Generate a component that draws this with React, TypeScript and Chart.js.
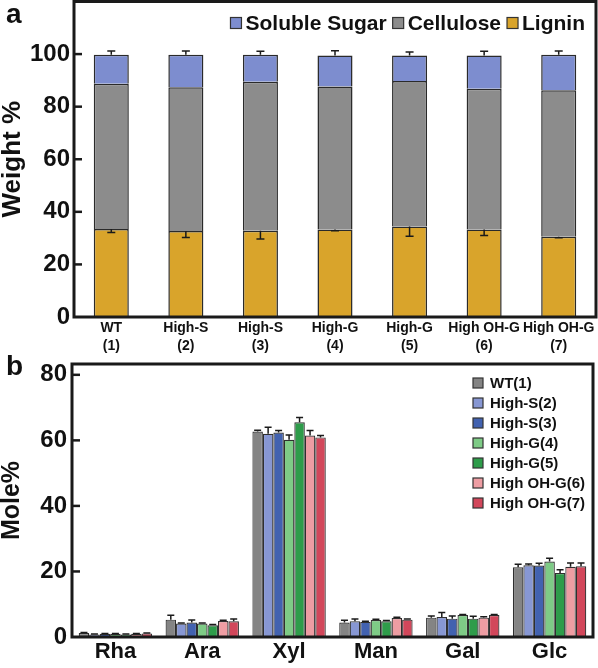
import React, { useEffect, useRef } from 'react';
import { Chart, registerables } from 'chart.js';

Chart.register(...registerables);

const FONT = "'Liberation Sans', Arial, Helvetica, sans-serif";
const INK = '#1a1a1a';

// ---------- Panel a: composition (Weight %) ----------
const lineCategories = [
  ['WT', '(1)'],
  ['High-S', '(2)'],
  ['High-S', '(3)'],
  ['High-G', '(4)'],
  ['High-G', '(5)'],
  ['High OH-G', '(6)'],
  ['High OH-G', '(7)'],
];
const ligninValues = [33.5, 32.7, 32.8, 33.3, 34.4, 33.3, 30.5];
const ligninErrors = [1.4, 2.5, 3.1, 0.5, 3.7, 2.3, 0.4];
const celluloseValues = [55.2, 54.7, 56.7, 54.4, 55.4, 53.5, 55.7];
const sugarValues = [11.0, 12.3, 10.2, 11.8, 9.7, 12.7, 13.5];
const sugarErrors = [1.5, 1.5, 1.4, 1.8, 1.3, 1.6, 1.5];
const weightAxisMax = 120;
const weightTickMax = 100;
const weightTickStep = 20;

// ---------- Panel b: monosaccharides (Mole%) ----------
const sugarCategories = ['Rha', 'Ara', 'Xyl', 'Man', 'Gal', 'Glc'];
const lineLabels = ['WT(1)', 'High-S(2)', 'High-S(3)', 'High-G(4)', 'High-G(5)', 'High OH-G(6)', 'High OH-G(7)'];
const wt1Values = [1.2, 5.3, 62.7, 4.4, 5.9, 21.3];
const wt1Errors = [0.2, 1.3, 0.4, 0.7, 0.5, 0.9];
const highS2Values = [0.8, 4.1, 62.0, 4.8, 6.1, 21.9];
const highS2Errors = [0.1, 0.2, 2.0, 0.7, 1.4, 0.4];
const highS3Values = [1.0, 4.4, 62.4, 4.6, 5.6, 21.8];
const highS3Errors = [0.1, 0.8, 0.6, 0.2, 0.8, 0.7];
const highG4Values = [1.0, 4.1, 60.2, 5.2, 6.7, 23.0];
const highG4Errors = [0.1, 0.2, 1.4, 0.2, 0.2, 1.0];
const highG5Values = [0.8, 3.6, 65.5, 4.8, 5.6, 19.5];
const highG5Errors = [0.1, 0.2, 1.5, 0.2, 0.7, 1.0];
const highOH6Values = [1.0, 4.9, 61.5, 5.8, 5.9, 21.4];
const highOH6Errors = [0.1, 0.2, 1.5, 0.2, 0.3, 1.2];
const highOH7Values = [1.1, 4.8, 60.9, 5.3, 6.7, 21.6];
const highOH7Errors = [0.1, 0.7, 0.6, 0.2, 0.2, 1.0];
const moleAxisMax = 83.3;
const moleTickMax = 80;
const moleTickStep = 20;

const lineColors = ['#848484', '#8797d3', '#4262b0', '#7ecb86', '#2e9c4a', '#ee9da3', '#d2475b'];

// ---------- plugins ----------
const errorBarPlugin = {
  id: 'errorBars',
  afterDatasetsDraw(chart: any, _args: any, opts: any) {
    const ctx = chart.ctx;
    const yScale = chart.scales.y;
    ctx.save();
    ctx.strokeStyle = INK;
    ctx.lineWidth = opts.lineWidth ?? 1.5;
    chart.data.datasets.forEach((ds: any, di: number) => {
      const meta = chart.getDatasetMeta(di);
      if (!ds.errors || meta.hidden) return;
      const dir = ds.errorDirection === 'down' ? -1 : 1;
      meta.data.forEach((bar: any, i: number) => {
        const err = ds.errors[i];
        if (!err) return;
        const topValue = yScale.getValueForPixel(bar.y);
        const y0 = bar.y;
        const y1 = yScale.getPixelForValue(topValue + dir * err);
        const cap = opts.capHalf ?? 4;
        ctx.beginPath();
        ctx.moveTo(bar.x, y0);
        ctx.lineTo(bar.x, y1);
        ctx.moveTo(bar.x - cap, y1);
        ctx.lineTo(bar.x + cap, y1);
        ctx.stroke();
      });
    });
    ctx.restore();
  },
};

const framePlugin = {
  id: 'frame',
  afterDatasetsDraw(chart: any, _args: any, opts: any) {
    const { ctx, chartArea: ca } = chart;
    const y = chart.scales.y;
    ctx.save();
    ctx.strokeStyle = INK;
    ctx.lineWidth = opts.tickWidth ?? 2.5;
    y.ticks.forEach((t: any) => {
      if (t.value === y.min) return;
      const py = y.getPixelForValue(t.value);
      ctx.beginPath();
      ctx.moveTo(ca.left, py);
      ctx.lineTo(ca.left + (opts.tickLength ?? 8), py);
      ctx.stroke();
    });
    ctx.lineWidth = opts.width ?? 3;
    ctx.strokeRect(ca.left, ca.top, ca.right - ca.left, ca.bottom - ca.top);
    ctx.restore();
  },
};

const boxLegendPlugin = {
  id: 'boxLegend',
  afterDraw(chart: any, _args: any, opts: any) {
    const { ctx, chartArea: ca } = chart;
    let items = chart.data.datasets.map((ds: any) => ({ label: ds.label, color: ds.backgroundColor }));
    if (opts.reverse) items = items.slice().reverse();
    const box = opts.box;
    ctx.save();
    ctx.font = `bold ${opts.fontSize}px ${FONT}`;
    ctx.textBaseline = 'middle';
    ctx.textAlign = 'left';
    const drawItem = (x: number, y: number, it: any) => {
      ctx.fillStyle = it.color;
      ctx.fillRect(x, y - box / 2, box, box);
      ctx.strokeStyle = '#333';
      ctx.lineWidth = 1.2;
      ctx.strokeRect(x, y - box / 2, box, box);
      ctx.fillStyle = '#111';
      ctx.fillText(it.label, x + box + opts.gap, y + 1);
    };
    if (opts.layout === 'row') {
      const widths = items.map((it: any) => box + opts.gap + ctx.measureText(it.label).width);
      const total = widths.reduce((a: number, b: number) => a + b, 0) + opts.itemGap * (items.length - 1);
      let x = ca.right - opts.right - total;
      const y = ca.top + opts.top;
      items.forEach((it: any, k: number) => {
        drawItem(x, y, it);
        x += widths[k] + opts.itemGap;
      });
    } else {
      const x = ca.right - opts.right;
      items.forEach((it: any, k: number) => {
        drawItem(x, ca.top + opts.top + k * opts.rowHeight, it);
      });
    }
    ctx.restore();
  },
};

const panelLabelPlugin = {
  id: 'panelLabel',
  afterDraw(chart: any, _args: any, opts: any) {
    const ctx = chart.ctx;
    ctx.save();
    ctx.font = `bold ${opts.fontSize}px ${FONT}`;
    ctx.fillStyle = '#111';
    ctx.textBaseline = 'alphabetic';
    ctx.textAlign = 'left';
    ctx.fillText(opts.text, opts.x, opts.y);
    ctx.restore();
  },
};

function yAxis(max: number, tickMax: number, step: number, width: number, title: string, titleSize: number, pad: number) {
  return {
    min: 0,
    max,
    stacked: true,
    afterBuildTicks: (s: any) => {
      s.ticks = s.ticks.filter((t: any) => t.value <= tickMax);
    },
    afterFit: (s: any) => {
      s.width = width;
      s.paddingTop = 0;
      s.paddingBottom = 0;
    },
    ticks: {
      stepSize: step,
      includeBounds: false,
      padding: pad,
      color: '#111',
      font: { family: FONT, size: 24, weight: 'bold' },
    },
    grid: { display: false, drawTicks: false },
    border: { display: false },
    title: {
      display: true,
      text: title,
      color: '#111',
      padding: { top: 0, bottom: 0 },
      font: { family: FONT, size: titleSize, weight: 'bold', lineHeight: 1 },
    },
  };
}

function CompositionChart() {
  const ref = useRef<HTMLCanvasElement>(null);
  useEffect(() => {
    if (!ref.current) return;
    const chart = new Chart(ref.current, {
      type: 'bar',
      data: {
        labels: lineCategories as any,
        datasets: [
          {
            label: 'Lignin',
            data: ligninValues,
            backgroundColor: '#d9a42b',
            borderColor: '#2a2a2a',
            borderWidth: 1.5,
            errors: ligninErrors,
            errorDirection: 'down',
          } as any,
          {
            label: 'Cellulose',
            data: celluloseValues,
            backgroundColor: '#8c8c8c',
            borderColor: '#2a2a2a',
            borderWidth: 1.5,
          },
          {
            label: 'Soluble Sugar',
            data: sugarValues,
            backgroundColor: '#7d8dcf',
            borderColor: '#2a2a2a',
            borderWidth: 1.5,
            errors: sugarErrors,
            errorDirection: 'up',
          } as any,
        ],
      },
      options: {
        animation: false,
        responsive: false,
        layout: { padding: { top: 1.5, right: 2, left: 0, bottom: 0 } },
        datasets: { bar: { categoryPercentage: 1, barPercentage: 0.47 } },
        scales: {
          x: {
            stacked: true,
            afterFit: (s: any) => {
              s.height = 43;
              s.paddingLeft = 0;
              s.paddingRight = 0;
            },
            ticks: {
              autoSkip: false,
              maxRotation: 0,
              minRotation: 0,
              padding: 2,
              color: '#111',
              font: { family: FONT, size: 14, weight: 'bold', lineHeight: 1.3 },
            },
            grid: { display: false, drawTicks: false },
            border: { display: false },
          },
          y: yAxis(weightAxisMax, weightTickMax, weightTickStep, 74, 'Weight %', 26, 4) as any,
        },
        plugins: {
          legend: { display: false },
          tooltip: { enabled: false },
          errorBars: { capHalf: 4, lineWidth: 1.5 },
          frame: { width: 3, tickWidth: 2.5, tickLength: 8 },
          boxLegend: { layout: 'row', reverse: true, fontSize: 21, box: 11, gap: 4, itemGap: 6, right: 11, top: 21.5 },
          panelLabel: { text: 'a', x: 6, y: 23, fontSize: 28 },
        } as any,
      },
      plugins: [errorBarPlugin, framePlugin, boxLegendPlugin, panelLabelPlugin],
    });
    return () => chart.destroy();
  }, []);
  return <canvas ref={ref} width={598} height={360} style={{ position: 'absolute', left: 0, top: 0 }} />;
}

function SugarChart() {
  const ref = useRef<HTMLCanvasElement>(null);
  useEffect(() => {
    if (!ref.current) return;
    const values = [wt1Values, highS2Values, highS3Values, highG4Values, highG5Values, highOH6Values, highOH7Values];
    const errors = [wt1Errors, highS2Errors, highS3Errors, highG4Errors, highG5Errors, highOH6Errors, highOH7Errors];
    const chart = new Chart(ref.current, {
      type: 'bar',
      data: {
        labels: sugarCategories,
        datasets: lineLabels.map((label, k) => ({
          label,
          data: values[k],
          errors: errors[k],
          errorDirection: 'up',
          backgroundColor: lineColors[k],
          borderColor: '#2f2f2f',
          borderWidth: 1.2,
        })) as any,
      },
      options: {
        animation: false,
        responsive: false,
        layout: { padding: { top: 14, right: 5, left: 0, bottom: 0 } },
        datasets: { bar: { categoryPercentage: 0.845, barPercentage: 1 } },
        scales: {
          x: {
            afterFit: (s: any) => {
              s.height = 31;
              s.paddingLeft = 0;
              s.paddingRight = 0;
            },
            ticks: {
              autoSkip: false,
              maxRotation: 0,
              minRotation: 0,
              padding: 2,
              color: '#111',
              font: { family: FONT, size: 22, weight: 'bold', lineHeight: 1.2 },
            },
            grid: { display: false, drawTicks: false },
            border: { display: false },
          },
          y: { ...(yAxis(moleAxisMax, moleTickMax, moleTickStep, 72, 'Mole%', 25, 5) as any), stacked: false },
        },
        plugins: {
          legend: { display: false },
          tooltip: { enabled: false },
          errorBars: { capHalf: 3.5, lineWidth: 1.5 },
          frame: { width: 3, tickWidth: 2.5, tickLength: 8 },
          boxLegend: { layout: 'column', fontSize: 15, box: 10, gap: 7, rowHeight: 20, right: 120, top: 19 },
          panelLabel: { text: 'b', x: 6, y: 25, fontSize: 28 },
        } as any,
      },
      plugins: [errorBarPlugin, framePlugin, boxLegendPlugin, panelLabelPlugin],
    });
    return () => chart.destroy();
  }, []);
  return <canvas ref={ref} width={598} height={318} style={{ position: 'absolute', left: 0, top: 350 }} />;
}

export default function App() {
  return (
    <div style={{ position: 'absolute', left: 0, top: 0, width: 598, height: 668, background: '#fff', overflow: 'hidden' }}>
      <CompositionChart />
      <SugarChart />
    </div>
  );
}
